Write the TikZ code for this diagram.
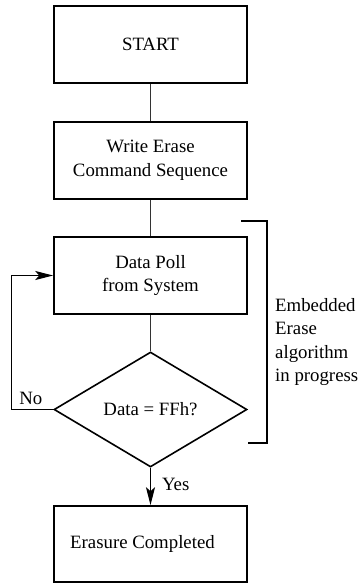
\documentclass[tikz,border=0pt]{standalone}
\usepackage{fontspec}
\setmainfont{Liberation Serif}
\usetikzlibrary{shapes.geometric,arrows.meta,calc}
\tikzset{ blk/.style = { rectangle % process box
        , draw
        , line width = 1.6pt
        , minimum width = 193pt
        , minimum height = 77pt
        , inner sep = 0pt
        , align = center
        }
        , dec/.style = { diamond % decision
        , draw
        , line width = 1.6pt
        , minimum width = 193pt
        , minimum height = 115pt
        , inner sep = 0pt
        }
        , lbl/.style = { rectangle % edge label
        , inner sep = 0pt
        }
        }

\begin{document}
\begin{tikzpicture}[x=1pt, y=-1pt, font=\fontsize{18.8}{23.5}\selectfont,
        edge_style/.style={draw=black!80, line width=1pt},
        arrow_style/.style={draw=black, line width=1pt, -{Stealth[length=18pt,width=9pt,inset=4pt]}},
        brace_style/.style={draw=black, line width=1.6pt}]
        \useasboundingbox (0,0) rectangle (360,583);

        \node [blk](start) at (150.5,44.5) {START};
        \node [blk](write) at (150.5,160.5) {Write Erase\\Command Sequence};
        \node [blk](poll) at (150.5,275.5) {Data Poll\\from System};
        \node [dec](test) at (150.5,409.5) {\raisebox{-2pt}{Data = FFh?}};
        \node [blk,minimum height=76pt](done) at (150.5,544) {\hspace*{-16pt}Erasure Completed};

        \draw [edge_style] (start) -- (write);
        \draw [edge_style] (write) -- (poll);
        \draw [edge_style] (poll) -- (test);
        \draw [arrow_style] (test.south) -- node [lbl,right=11pt,pos=0.45] {Yes} (done.north);
        \draw [arrow_style] (test.west) -- ++(-42,0) coordinate (bend) |- (poll.west);
        \node [lbl,anchor=south west] (no) at ($(bend)+(8,-5)$) {No};

        % bracket round the embedded part
        \coordinate (b1) at (241,221);
        \coordinate (b2) at (267,221);
        \coordinate (b3) at (267,443);
        \coordinate (b4) at (248,443);
        \draw [brace_style] (b1) -- (b2) -- (b3) -- (b4);
        \node [lbl,anchor=west,align=left] (emb) at (275,342) {Embedded\\Erase\\algorithm\\in progress};
\end{tikzpicture}
\end{document}
